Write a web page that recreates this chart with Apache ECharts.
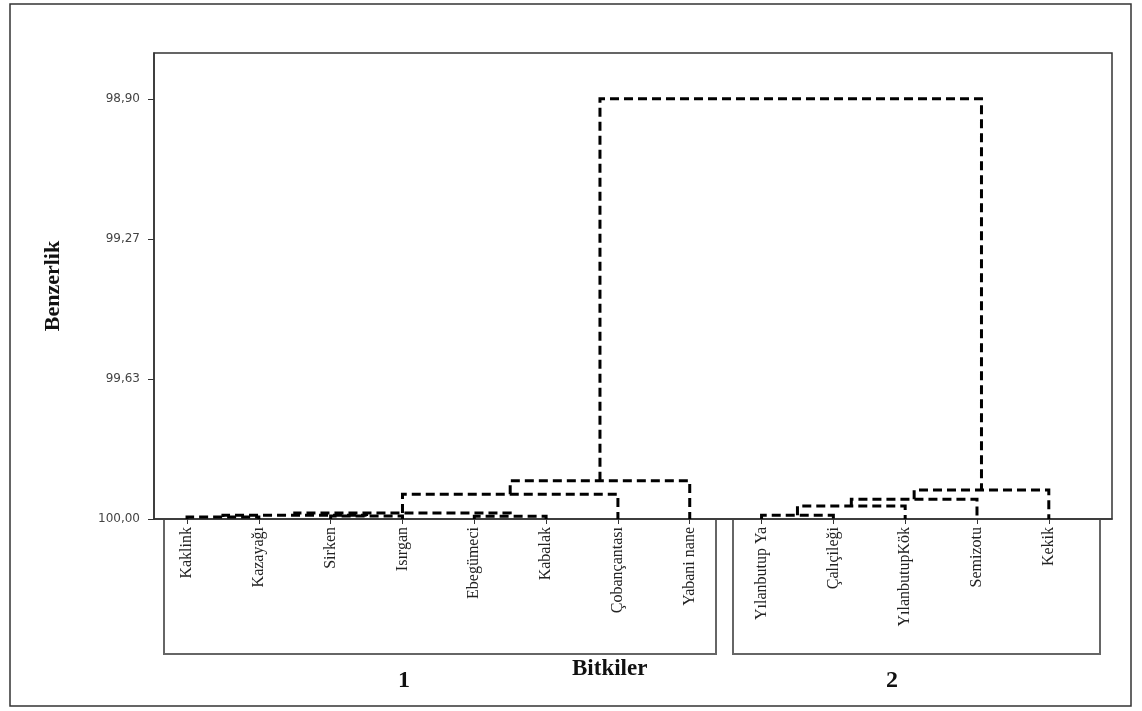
<!DOCTYPE html>
<html>
<head>
<meta charset="utf-8">
<script src="https://cdn.jsdelivr.net/npm/echarts@6/dist/echarts.min.js"></script>
<style>
  html, body { margin: 0; padding: 0; background: #fff; }
  #chart { width: 1142px; height: 711px; }
</style>
</head>
<body>
<div id="chart"></div>
<script>
// Leaves (plants), in dendrogram order
const leaves = [
  'Kaklink', 'Kazayağı', 'Sirken', 'Isırgan', 'Ebegümeci', 'Kabalak',
  'Çobançantası', 'Yabani nane',
  'Yılanbutup Ya', 'Çalıçileği', 'YılanbutupKök', 'Semizotu', 'Kekik'
]

// Merge steps: node ids 0..12 are leaves, 13.. are clusters in merge order
const mergeLeft = [0, 2, 13, 4, 15, 17, 18, 8, 20, 21, 22, 19]
const mergeRight = [1, 3, 14, 5, 16, 6, 7, 9, 10, 11, 12, 23]
const mergeHeight = [99.995, 99.992, 99.990, 99.993, 99.984, 99.935, 99.900,
  99.990, 99.966, 99.948, 99.924, 98.90]

// Similarity axis ticks
const yTickValues = [98.90, 99.2667, 99.6333, 100.00]
const yTickLabels = ['98,90', '99,27', '99,63', '100,00']

// Build link data: [xLeft, hLeft, xRight, hRight, hMerge]
const nodeX = leaves.map((_, i) => i)
const nodeH = leaves.map(() => 100)
const links = []
mergeLeft.forEach((a, i) => {
  const b = mergeRight[i]
  const h = mergeHeight[i]
  links.push([nodeX[a], nodeH[a], nodeX[b], nodeH[b], h])
  nodeX.push((nodeX[a] + nodeX[b]) / 2)
  nodeH.push(h)
})

const chart = echarts.init(document.getElementById('chart'))

const option = {
  animation: false,
  grid: {
    left: 154,
    top: 53,
    right: 30,
    bottom: 192,
    show: true,
    borderColor: '#333',
    borderWidth: 1.5
  },
  xAxis: {
    type: 'value',
    min: -0.46,
    max: 12.88,
    axisLine: { show: true, onZero: false, lineStyle: { color: '#333', width: 1.5 } },
    splitLine: { show: false },
    axisTick: {
      show: true,
      customValues: leaves.map((_, i) => i),
      length: 5,
      lineStyle: { color: '#333' }
    },
    axisLabel: {
      customValues: leaves.map((_, i) => i),
      rotate: 90,
      margin: 8,
      fontFamily: 'Liberation Serif',
      fontSize: 16,
      color: '#222',
      formatter: (v) => leaves[Math.round(v)]
    }
  },
  yAxis: {
    type: 'value',
    inverse: true,
    min: 98.78,
    max: 100,
    name: 'Benzerlik',
    nameLocation: 'middle',
    nameRotate: 90,
    nameGap: 90,
    nameTextStyle: {
      fontFamily: 'Liberation Serif',
      fontWeight: 'bold',
      fontSize: 22,
      color: '#111'
    },
    axisLine: { show: true, onZero: false, lineStyle: { color: '#333', width: 1.5 } },
    splitLine: { show: false },
    axisTick: {
      show: true,
      customValues: yTickValues,
      length: 6,
      lineStyle: { color: '#333' }
    },
    axisLabel: {
      customValues: yTickValues,
      margin: 14,
      fontFamily: 'DejaVu Sans',
      fontSize: 12,
      color: '#444',
      formatter: (v) => {
        let best = 0
        yTickValues.forEach((t, i) => {
          if (Math.abs(t - v) < Math.abs(yTickValues[best] - v)) best = i
        })
        return yTickLabels[best]
      }
    }
  },
  graphic: [
    // outer frame
    { type: 'rect', shape: { x: 10, y: 4, width: 1121, height: 702 },
      style: { fill: null, stroke: '#333', lineWidth: 1.5 }, silent: true },
    // group boxes
    { type: 'polyline', shape: { points: [[164, 519], [164, 654], [716, 654], [716, 519]] },
      style: { fill: null, stroke: '#666', lineWidth: 2 }, silent: true },
    { type: 'polyline', shape: { points: [[733, 519], [733, 654], [1100, 654], [1100, 519]] },
      style: { fill: null, stroke: '#666', lineWidth: 2 }, silent: true },
    { type: 'text', left: 572, top: 658,
      style: { text: 'Bitkiler', font: 'bold 23px "Liberation Serif"', fill: '#111' } },
    { type: 'text', left: 398, top: 669,
      style: { text: '1', font: 'bold 24px "Liberation Serif"', fill: '#111' } },
    { type: 'text', left: 886, top: 669,
      style: { text: '2', font: 'bold 24px "Liberation Serif"', fill: '#111' } }
  ],
  series: [
    {
      type: 'custom',
      clip: false,
      data: links,
      encode: { x: [0, 2], y: [1, 3, 4] },
      renderItem: (params, api) => {
        const xa = api.value(0)
        const ha = api.value(1)
        const xb = api.value(2)
        const hb = api.value(3)
        const h = api.value(4)
        return {
          type: 'polyline',
          shape: {
            points: [
              api.coord([xa, ha]),
              api.coord([xa, h]),
              api.coord([xb, h]),
              api.coord([xb, hb])
            ]
          },
          style: {
            fill: null,
            stroke: '#000',
            lineWidth: 3,
            lineDash: [9, 5]
          }
        }
      }
    }
  ]
}

chart.setOption(option)
</script>
</body>
</html>
